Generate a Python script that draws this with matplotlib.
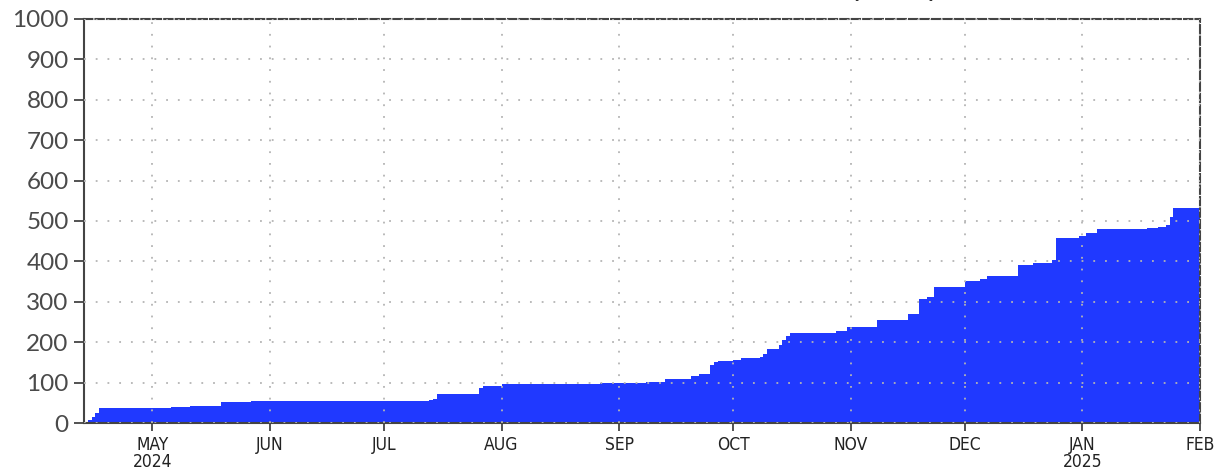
import numpy as np
import matplotlib
matplotlib.use("Agg")
import matplotlib.pyplot as plt


# --- cumulative totals (date of change, running total) ---
dates = [
    "2024-04-13", "2024-04-14", "2024-04-15", "2024-04-16", "2024-04-17",
    "2024-05-06", "2024-05-11", "2024-05-19", "2024-05-27",
    "2024-07-13", "2024-07-14", "2024-07-15", "2024-07-26", "2024-07-27",
    "2024-08-01", "2024-08-27",
    "2024-09-08", "2024-09-13", "2024-09-20", "2024-09-22", "2024-09-25",
    "2024-09-26", "2024-09-27",
    "2024-10-01", "2024-10-03", "2024-10-08", "2024-10-09", "2024-10-10",
    "2024-10-13", "2024-10-14", "2024-10-15", "2024-10-16", "2024-10-28",
    "2024-10-31",
    "2024-11-08", "2024-11-11", "2024-11-16", "2024-11-19", "2024-11-21",
    "2024-11-23",
    "2024-12-01", "2024-12-05", "2024-12-07", "2024-12-15", "2024-12-19",
    "2024-12-24", "2024-12-25", "2024-12-31",
    "2025-01-02", "2025-01-05", "2025-01-18", "2025-01-21", "2025-01-23",
    "2025-01-24", "2025-01-25", "2025-02-01",
]
totals = [
    2, 8, 15, 25, 37,
    39, 42, 52, 55,
    57, 59, 72, 86, 92,
    96, 100,
    102, 109, 117, 122, 144,
    150, 154,
    157, 160, 164, 170, 182,
    192, 205, 215, 224, 228,
    238,
    254, 256, 269, 306, 311,
    337,
    352, 357, 364, 390, 396,
    403, 458, 463,
    471, 481, 483, 486, 491,
    510, 532, 532,
]

month_ticks = ["2024-05-01", "2024-06-01", "2024-07-01", "2024-08-01",
               "2024-09-01", "2024-10-01", "2024-11-01", "2024-12-01",
               "2025-01-01", "2025-02-01"]
month_labels = ["MAY\n2024", "JUN", "JUL", "AUG", "SEP", "OCT", "NOV", "DEC",
                "JAN\n2025", "FEB"]

x = np.array(dates, dtype="datetime64[D]")
y = np.array(totals, dtype=float)

fig = plt.figure(figsize=(12.19, 4.71), dpi=100)
ax = fig.add_axes([0.0689, 0.1019, 0.9155, 0.8578])

ax.fill_between(x, y, step="post", color="#2039ff", lw=0, zorder=1)

ax.set_xlim(np.datetime64("2024-04-13"), np.datetime64("2025-02-01"))
ax.set_ylim(0, 1000)

# grid sits on top of the filled area
ax.set_axisbelow(False)
ax.grid(True, color="#b4b4b4", linestyle=(0, (1, 5.5)), linewidth=1.3)

ax.set_yticks(np.arange(0, 1001, 100))
ax.set_xticks(np.array(month_ticks, dtype="datetime64[D]"))
ax.set_xticklabels(month_labels, linespacing=0.95)

ax.tick_params(axis="y", direction="out", length=7, width=1.3, color="#444",
               labelsize=17.5, labelcolor="#4a4a4a", pad=4)
ax.tick_params(axis="x", direction="out", length=6, width=1.3, color="#444",
               labelsize=12.5, labelcolor="#222", pad=3)
for lab in ax.get_yticklabels():
    lab.set_family(["Lato", "Liberation Sans"])
for lab in ax.get_xticklabels():
    lab.set_fontstretch("condensed")

for side in ("left", "bottom"):
    ax.spines[side].set_color("#444")
    ax.spines[side].set_linewidth(1.5)
for side in ("top", "right"):
    ax.spines[side].set_color("#444")
    ax.spines[side].set_linewidth(1.5)
    ax.spines[side].set_linestyle((0, (4, 1.5)))

# title sits just above the top edge of the canvas
fig.text(0.771, 1.0065, "Cumulative Rainfall (mm)", ha="right", va="baseline",
         fontsize=24, color="#333")

fig.savefig("out.png", dpi=100)
